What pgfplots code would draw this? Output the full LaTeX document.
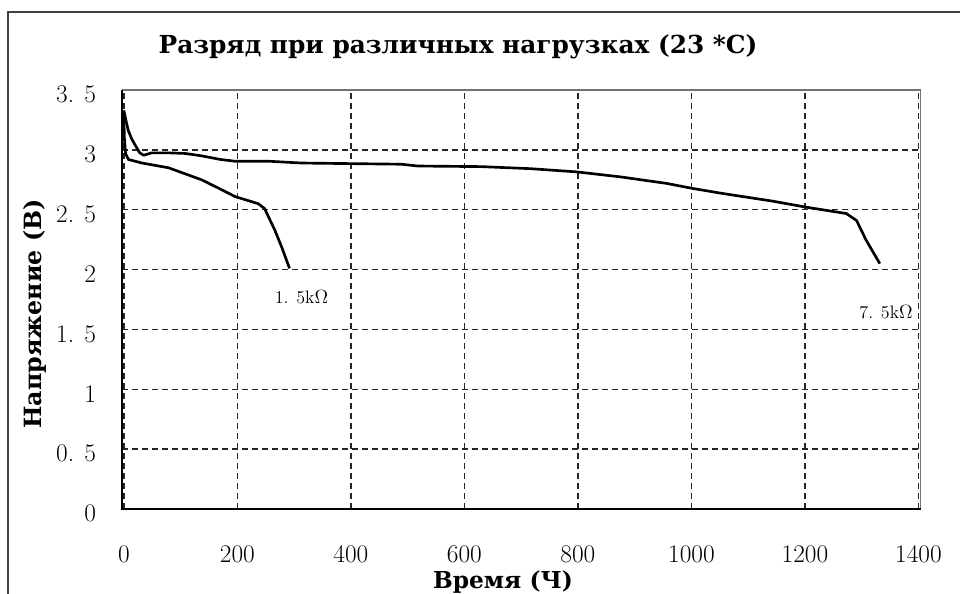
\documentclass[border=0pt]{standalone}
\usepackage{fontspec}
\usepackage{pgfplots}
\pgfplotsset{compat=1.18}
\newfontfamily\titlefont{DejaVu Serif}
\begin{document}
\begin{tikzpicture}[x=0.75pt,y=0.75pt]
\path[use as bounding box] (0,0) rectangle (960,593);
\draw[line width=1.6pt, black!75] (8.3,-5) -- (8.3,581.3) -- (965,581.3);
\begin{axis}[
  at={(91.5pt,63pt)}, anchor=south west, scale only axis,
  width=599pt, height=314.25pt,
  xmin=-3.2, xmax=1404, ymin=0, ymax=3.5,
  xtick={0,200,400,600,800,1000,1200,1400},
  xticklabels={0,200,400,600,800,1000,1200,1400},
  ytick={0,0.5,1,1.5,2,2.5,3,3.5},
  yticklabels={0,0. 5,1,1. 5,2,2. 5,3,3. 5},
  tick label style={font=\fontsize{19}{19}\selectfont},
  xticklabel style={anchor=center, yshift=-33.75pt},
  yticklabel style={anchor=east, xshift=-16pt, yshift=-3.5pt},
  grid=major,
  major grid style={black!85, line width=1.1pt, dash pattern=on 4.5pt off 3pt},
  axis line style={draw=none},
  tick style={draw=none},
  clip=false,
]
\draw[black!55, line width=1.2pt] (rel axis cs:0,1) -- (rel axis cs:1,1) -- (rel axis cs:1,0);
\draw[black, line width=1.6pt] (rel axis cs:0,1) -- (rel axis cs:0,0) -- (rel axis cs:1,0);
\addplot[black, line width=2pt, line join=round] coordinates {
(0,3.33) (4,3.24) (8,3.16) (14,3.09) (20,3.04) (28,2.975) (35,2.955) (49,2.975)
(80,2.975) (108,2.97) (137,2.95) (170,2.92) (196,2.905) (255,2.905) (313,2.89)
(400,2.885) (489,2.88) (518,2.865) (630,2.86) (716,2.843) (798,2.816) (874,2.775)
(956,2.72) (1003,2.677) (1056,2.635) (1144,2.571) (1200,2.523) (1273,2.468)
(1291,2.41) (1308,2.245) (1332,2.05)
};
\addplot[black, line width=2pt, line join=round] coordinates {
(0,3.30) (1,3.10) (3,2.97) (8,2.92) (32,2.89) (79,2.85) (137,2.75) (167,2.68)
(196,2.61) (237,2.55) (248,2.51) (266,2.33) (278,2.19) (292,2.01)
};
\node[font=\fontsize{13.5}{13.5}\selectfont] at (axis cs:313,1.77) {1. 5k$\Omega$};
\node[font=\fontsize{13.5}{13.5}\selectfont] at (axis cs:1343,1.645) {7. 5k$\Omega$};
\end{axis}
\node[font=\titlefont\bfseries\fontsize{18.6}{18.6}\selectfont] at (458,546) {Разряд при различных нагрузках (23 *C)};
\node[font=\titlefont\bfseries\fontsize{17.8}{17.8}\selectfont, rotate=90] at (35,279) {Напряжение (В)};
\node[font=\titlefont\bfseries\fontsize{17.5}{17.5}\selectfont] at (503,11) {Время (Ч)};
\end{tikzpicture}
\end{document}
